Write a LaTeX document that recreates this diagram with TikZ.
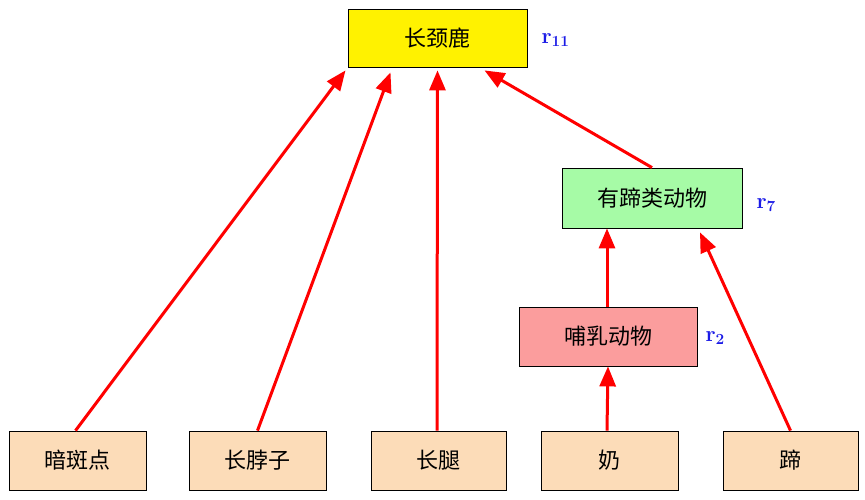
\documentclass[tikz,border=0pt]{standalone}
\usepackage{fontspec}
\newfontfamily\cjk{Noto Sans CJK SC}
\usetikzlibrary{arrows.meta}
\definecolor{peach}{HTML}{FCDCB8}
\definecolor{lgreen}{HTML}{A6FBA6}
\definecolor{pink}{HTML}{FB9D9D}
\definecolor{rblue}{HTML}{1A1AE6}
\tikzset{
 box/.style={draw=black, line width=0.8pt, minimum width=137pt, minimum height=59pt, inner sep=0pt, font=\cjk\fontsize{22}{24}\selectfont},
 lab/.style={text=rblue, font=\bfseries\fontsize{22}{24}\selectfont, anchor=west},
 arr/.style={draw=red, line width=3pt, -{Triangle[length=20pt,width=16pt]}}
}
\begin{document}
\begin{tikzpicture}[x=1pt,y=-1pt]
\useasboundingbox (0,0) rectangle (865,500);
\node[box, fill=yellow, minimum width=179pt, minimum height=58pt] (g) at (437.5,38) {长颈鹿};
\node[box, fill=lgreen, minimum width=180pt, minimum height=60pt] (u) at (652,198) {有蹄类动物};
\node[box, fill=pink, minimum width=178pt, minimum height=59pt] (m) at (608,336.5) {哺乳动物};
\node[box, fill=peach] (b1) at (77.5,460.5) {暗斑点};
\node[box, fill=peach] (b2) at (257.5,460.5) {长脖子};
\node[box, fill=peach, minimum width=135pt] (b3) at (438.5,460.5) {长腿};
\node[box, fill=peach] (b4) at (609.5,460.5) {奶};
\node[box, fill=peach, minimum width=135pt] (b5) at (790.5,460.5) {蹄};
\node[lab] (r11) at (538,40) {r\textsubscript{11}};
\node[lab] (r7) at (753,205) {r\textsubscript{7}};
\node[lab] (r2) at (702,338) {r\textsubscript{2}};
\coordinate (g1) at ([xshift=-92pt,yshift=-3pt]g.south);
\coordinate (g2) at ([xshift=-47pt,yshift=-5pt]g.south);
\coordinate (g3) at ([xshift=0pt,yshift=-3pt]g.south);
\coordinate (g4) at ([xshift=47pt,yshift=-3pt]g.south);
\coordinate (u1) at ([xshift=-45pt]u.south);
\coordinate (u2) at ([xshift=48pt,yshift=-4pt]u.south);
\draw[arr] ([xshift=-2pt]b1.north) -- (g1);
\draw[arr] (b2.north) -- (g2);
\draw[arr] ([xshift=-1.5pt]b3.north) -- (g3);
\draw[arr] (u.north) -- (g4);
\draw[arr] ([xshift=-1pt]m.north) -- (u1);
\draw[arr] ([xshift=-2.5pt]b4.north) -- (m.south);
\draw[arr] (b5.north) -- (u2);
\end{tikzpicture}
\end{document}
